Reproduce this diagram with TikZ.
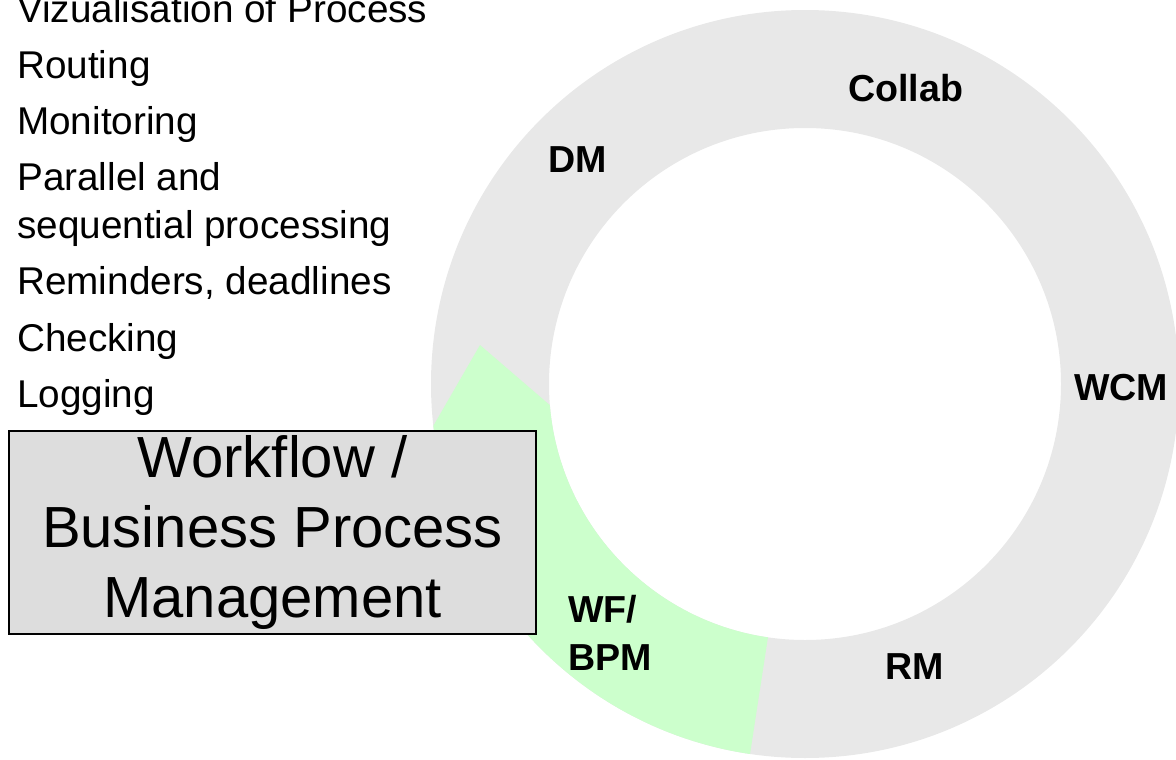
\documentclass[tikz,border=0pt]{standalone}
\usepackage{fontspec}
\setmainfont{Liberation Sans}
\definecolor{ringgray}{HTML}{E8E8E8}
\definecolor{wfgreen}{HTML}{CCFFCC}
\definecolor{boxgray}{HTML}{DDDDDD}
\begin{document}
\begin{tikzpicture}[x=1pt,y=-1pt,
  item/.style={anchor=base west, inner sep=0pt, font=\fontsize{38.7}{46}\selectfont},
  seglabel/.style={anchor=base west, inner sep=0pt, font=\fontsize{37.6}{48}\selectfont\bfseries, align=left},
  bigbox/.style={draw=black, line width=1.3pt, fill=boxgray, minimum width=527pt, minimum height=203pt, inner sep=0pt, align=center, font=\fontsize{58}{70}\selectfont}]
\useasboundingbox (0,0) rectangle (1176,760);
\clip (0,0) rectangle (1176,760);
% ring
\coordinate (c) at (805,384);
\fill[ringgray, even odd rule] (c) circle[radius=374pt] (c) circle[radius=256pt];
\begin{scope}[even odd rule]
  \clip (c) circle[radius=374pt] (c) circle[radius=256pt];
  \fill[wfgreen] (774,598) -- (480,345) -- (402,480) -- (300,800) -- (743,800) -- cycle;
\end{scope}
% list
\node[item] (l1) at (17,23) {Vizualisation of Process};
\node[item] (l2) at (17,78) {Routing};
\node[item] (l3) at (17,135) {Monitoring};
\node[item] (l4) at (17,190) {Parallel and};
\node[item] (l5) at (17,238) {sequential processing};
\node[item] (l6) at (17,294) {Reminders, deadlines};
\node[item] (l7) at (17,351) {Checking};
\node[item] (l8) at (17,407) {Logging};
% box
\node[bigbox] (box) at (272.5,532.5) {Workflow /\\Business Process\\Management};
% segment labels
\node[seglabel] (collab) at (848,101) {Collab};
\node[seglabel] (dm) at (548,172) {DM};
\node[seglabel] (wcm) at (1074,400) {WCM};
\node[seglabel] (wf) at (568,622) {WF/};
\node[seglabel] (bpm) at (568,670) {BPM};
\node[seglabel] (rm) at (885,679) {RM};
\end{tikzpicture}
\end{document}
